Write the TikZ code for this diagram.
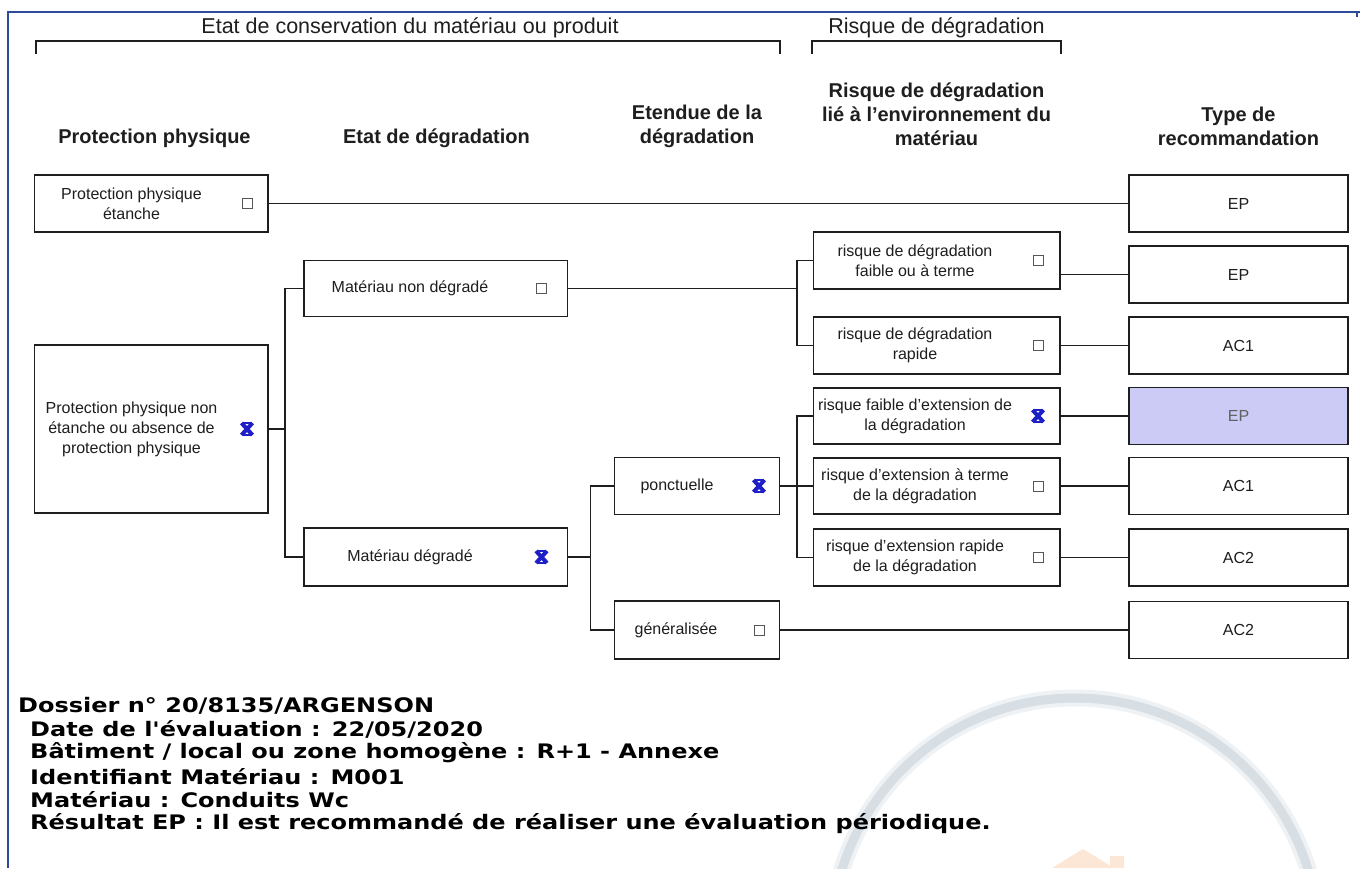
\documentclass[tikz,border=0pt]{standalone}
\usepackage{fontspec}
\setmainfont{Liberation Sans}
\newfontfamily\notefont{DejaVu Sans}
\usetikzlibrary{positioning,calc}
\definecolor{ink}      {HTML}{1E1E1E}
\definecolor{frameblue}{HTML}{2E4A9A}
\definecolor{tickblue} {HTML}{1F1FC8}
\definecolor{pick}     {HTML}{CBCBF5}
\definecolor{wmgrey}   {HTML}{D7DEE4}
\definecolor{wmorange} {HTML}{F9D3B4}

\begin{document}
\begin{tikzpicture}[
  x=1pt, y=-1pt,
  every node/.style={text=ink},
  crit/.style={draw=ink, line width=1.8pt, fill=white, inner sep=0pt},
  rec/.style={crit, minimum width=219pt, minimum height=57pt, font=\fontsize{16}{20}\selectfont},
  risk/.style={crit, minimum width=246.5pt, minimum height=56.5pt},
  txt/.style={font=\fontsize{16}{20}\selectfont, align=center, inner sep=0pt},
  head/.style={font=\fontsize{20}{24}\selectfont\bfseries, align=center, inner sep=0pt},
  grp/.style={font=\fontsize{21.5}{25}\selectfont, inner sep=0pt},
  wire/.style={draw=ink, line width=1.8pt},
  chk/.style={draw=ink!75, line width=1pt, minimum size=10pt, inner sep=0pt},
  chkx/.style={minimum size=18pt, inner sep=0pt,
    path picture={
      \draw[tickblue, line width=4pt]
        ([shift={(3.5pt,-3pt)}]path picture bounding box.north west)
          -- ([shift={(-3.5pt,3pt)}]path picture bounding box.south east)
        ([shift={(-3.5pt,-3pt)}]path picture bounding box.north east)
          -- ([shift={(3.5pt,3pt)}]path picture bounding box.south west);
      \draw[tickblue, line width=1.1pt]
        ([shift={(4.5pt,-3pt)}]path picture bounding box.north west)
          -- ([shift={(-4.5pt,-3pt)}]path picture bounding box.north east)
        ([shift={(4.5pt,3pt)}]path picture bounding box.south west)
          -- ([shift={(-4.5pt,3pt)}]path picture bounding box.south east);}},
  note/.style={font=\notefont\bfseries\fontsize{20}{23}\selectfont, text=black,
    anchor=west, inner sep=0pt, xscale=1.2}
]
\useasboundingbox (0,0) rectangle (1360,868);
\fill[white] (0,0) rectangle (1360,868);

% faint logo behind the notes
\begin{scope}
  \clip (0,0) rectangle (1360,868);
  \draw[wmgrey!40, line width=17pt] (1075,942) circle[radius=244];
  \draw[wmgrey, line width=9pt] (1075,942) circle[radius=244];
  \fill[wmorange!55] (1052,868) -- (1083,849) -- (1114,868) -- cycle;
  \fill[wmorange!55] (1110,856) rectangle (1124,868);
\end{scope}

% page frame
\draw[frameblue, line width=2pt] (8,868) -- (8,12) -- (1360,12);
\draw[frameblue, line width=2pt] (1357,12) -- (1357,17);

% groups
\node[grp] (gEtat) at (410,28) {Etat de conservation du matériau ou produit};
\node[grp] (gRisq) at (936.5,28) {Risque de dégradation};
\draw[ink, line width=1.6pt] (36,54) -- (36,41) -- (780,41) -- (780,54);
\draw[ink, line width=1.6pt] (812,54) -- (812,41) -- (1061,41) -- (1061,54);

% column heads
\node[head] (hProt) at (154.5,138) {Protection physique};
\node[head] (hDeg)  at (436.5,138) {Etat de dégradation};
\node[head] (hEt)   at (697,126)   {Etendue de la\\dégradation};
\node[head] (hEnv)  at (936.5,114) {Risque de dégradation\\lié à l'environnement du\\matériau};
\node[head] (hRec)  at (1238.5,126) {Type de\\recommandation};

% protection physique
\node[crit, minimum width=233.5pt, minimum height=57pt] (ppEt) at (151.25,203.5) {};
\node[txt] at (131.5,203.5) {Protection physique\\étanche};
\node[chk] at (247,203.5) {};
\node[crit, minimum width=233.5pt, minimum height=168pt] (ppNon) at (151.25,429) {};
\node[txt] at (131.5,429) {Protection physique non\\étanche ou absence de\\protection physique};
\node[chkx] at (247,429) {};

% etat de degradation
\node[crit, minimum width=263.5pt, minimum height=56pt] (matOk) at (435.75,288.5) {};
\node[txt] at (410,288.5) {Matériau non dégradé};
\node[chk] at (541.5,288.5) {};
\node[crit, minimum width=263.5pt, minimum height=58pt] (matDeg) at (435.75,557) {};
\node[txt] at (410,557) {Matériau dégradé};
\node[chkx] at (541.5,557) {};

% etendue
\node[crit, minimum width=165pt, minimum height=57pt] (ponct) at (697,486) {};
\node[txt] at (677,486) {ponctuelle};
\node[chkx] at (759,486) {};
\node[crit, minimum width=165pt, minimum height=58pt] (gener) at (697,630) {};
\node[txt] at (676,630) {généralisée};
\node[chk] at (759,630) {};

% risque lie a l'environnement
\node[risk] (r1) at (936.75,260.5) {};
\node[txt] at (915,260.5) {risque de dégradation\\faible ou à terme};
\node[chk] at (1038,260.5) {};
\node[risk] (r2) at (936.75,345.5) {};
\node[txt] at (915,345.5) {risque de dégradation\\rapide};
\node[chk] at (1038,345.5) {};
\node[risk] (r3) at (936.75,416) {};
\node[txt] at (915,416) {risque faible d'extension de\\la dégradation};
\node[chkx] at (1038,416) {};
\node[risk] (r4) at (936.75,486) {};
\node[txt] at (915,486) {risque d'extension à terme\\de la dégradation};
\node[chk] at (1038,486) {};
\node[risk] (r5) at (936.75,557.5) {};
\node[txt] at (915,557.5) {risque d'extension rapide\\de la dégradation};
\node[chk] at (1038,557.5) {};

% type de recommandation
\node[rec] (t1) at (1238.5,203.5) {EP};
\node[rec] (t2) at (1238.5,274.5) {EP};
\node[rec] (t3) at (1238.5,345.5) {AC1};
\node[rec, fill=pick, text=ink!70] (t4) at (1238.5,416) {EP};
\node[rec] (t5) at (1238.5,486) {AC1};
\node[rec] (t6) at (1238.5,557.5) {AC2};
\node[rec] (t7) at (1238.5,630) {AC2};

% branches
\coordinate (jProt) at (285,429);
\coordinate (jOk)   at (797,288.5);
\coordinate (jDeg)  at (590.5,557);
\coordinate (jPon)  at (797,486);
\draw[wire] (ppEt.east) -- (t1.west);
\draw[wire] (ppNon.east) -- (jProt);
\draw[wire] (matOk.west) -| (jProt) |- (matDeg.west);
\draw[wire] (matOk.east) -- (jOk);
\draw[wire] (r1.west) -| (jOk) |- (r2.west);
\draw[wire] (matDeg.east) -- (jDeg);
\draw[wire] (ponct.west) -| (jDeg) |- (gener.west);
\draw[wire] (ponct.east) -- (r4.west);
\draw[wire] (r3.west) -| (jPon) |- (r5.west);
\draw[wire] (r1.east |- t2.west) -- (t2.west);
\draw[wire] (r2.east) -- (t3.west);
\draw[wire] (r3.east) -- (t4.west);
\draw[wire] (r4.east) -- (t5.west);
\draw[wire] (r5.east) -- (t6.west);
\draw[wire] (gener.east) -- (t7.west);

% dossier
\node[note] (nDos) at (18,706)   {Dossier n° 20/8135/ARGENSON};
\node[note] (nDat) at (30,729.5) {Date de l'évaluation : 22/05/2020};
\node[note] (nBat) at (30,753)   {Bâtiment / local ou zone homogène : R+1 - Annexe};
\node[note] (nId)  at (30,776.5) {Identifiant Matériau : M001};
\node[note] (nMat) at (30,800)   {Matériau : Conduits Wc};
\node[note] (nRes) at (30,823.5) {Résultat EP : Il est recommandé de réaliser une évaluation périodique.};
\end{tikzpicture}
\end{document}
